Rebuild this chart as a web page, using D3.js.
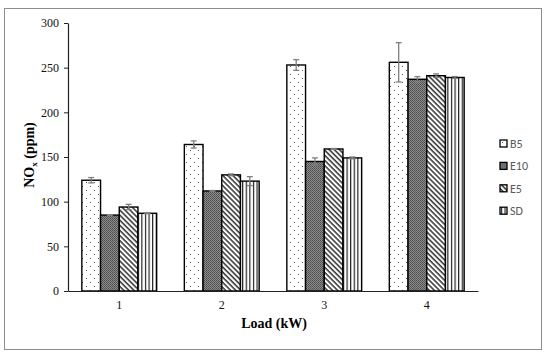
<!DOCTYPE html>
<html>
<head>
<meta charset="utf-8">
<script src="https://cdn.jsdelivr.net/npm/d3@7"></script>
<style>
  body { margin: 0; background: #fff; }
  svg { display: block; }
</style>
</head>
<body>
<script>
// categories and series
let loads = ["1", "2", "3", "4"];
let seriesNames = ["B5", "E10", "E5", "SD"];

// NOx values (ppm) per series, one per load
let b5 = [124, 164, 253, 256];
let e10 = [85, 112, 145, 237];
let e5 = [94, 130, 159, 241];
let sd = [87, 123, 149, 239];

// error bar half-lengths
let b5Err = [3, 4, 6, 22];
let e10Err = [0.5, 0.5, 4, 3];
let e5Err = [3, 1, 0.5, 2];
let sdErr = [0.5, 5, 1, 1];

let yTicks = [0, 50, 100, 150, 200, 250, 300];

let width = 550, height = 354;
let plot = { left: 68, right: 478, top: 23, bottom: 291 };
let serif = "'Liberation Serif', 'Times New Roman', serif";

let svg = d3.select("body").append("svg")
  .attr("width", width)
  .attr("height", height);

// patterns
let defs = svg.append("defs");

let dots = defs.append("pattern")
  .attr("id", "pat-B5")
  .attr("patternUnits", "userSpaceOnUse")
  .attr("width", 8).attr("height", 8);
dots.append("rect").attr("width", 8).attr("height", 8).attr("fill", "#fff");
dots.append("rect").attr("x", 2).attr("y", 2).attr("width", 1).attr("height", 1).attr("fill", "#555");
dots.append("rect").attr("x", 6).attr("y", 6).attr("width", 1).attr("height", 1).attr("fill", "#555");

let hatch = defs.append("pattern")
  .attr("id", "pat-E10")
  .attr("patternUnits", "userSpaceOnUse")
  .attr("width", 2).attr("height", 2);
hatch.append("rect").attr("width", 2).attr("height", 2).attr("fill", "#8c8c8c");
hatch.append("rect").attr("width", 1).attr("height", 1).attr("fill", "#4a4a4a");
hatch.append("rect").attr("x", 1).attr("y", 1).attr("width", 1).attr("height", 1).attr("fill", "#5a5a5a");

let diag = defs.append("pattern")
  .attr("id", "pat-E5")
  .attr("patternUnits", "userSpaceOnUse")
  .attr("width", 3.6).attr("height", 3.6)
  .attr("patternTransform", "rotate(-45)");
diag.append("rect").attr("width", 3.6).attr("height", 3.6).attr("fill", "#fff");
diag.append("line").attr("x1", 1).attr("x2", 1).attr("y1", 0).attr("y2", 3.6)
  .attr("stroke", "#111").attr("stroke-width", 1.3);

let vert = defs.append("pattern")
  .attr("id", "pat-SD")
  .attr("patternUnits", "userSpaceOnUse")
  .attr("width", 3.6).attr("height", 4);
vert.append("rect").attr("width", 3.6).attr("height", 4).attr("fill", "#fff");
vert.append("line").attr("x1", 1.5).attr("x2", 1.5).attr("y1", 0).attr("y2", 4)
  .attr("stroke", "#111").attr("stroke-width", 1.1);

// outer frame
svg.append("rect")
  .attr("x", 4.5).attr("y", 8.5)
  .attr("width", 537).attr("height", 341)
  .attr("fill", "none")
  .attr("stroke", "#8c8c8c")
  .attr("stroke-width", 1);

// scales
let x0 = d3.scaleBand()
  .domain(loads)
  .range([plot.left, plot.right])
  .paddingInner(0.27)
  .paddingOuter(0.135);

let x1 = d3.scaleBand()
  .domain(seriesNames)
  .range([0, x0.bandwidth()]);

let y = d3.scaleLinear()
  .domain([0, 300])
  .range([plot.bottom, plot.top]);

// y axis
let yAxis = svg.append("g")
  .attr("transform", "translate(" + plot.left + ",0)")
  .call(d3.axisLeft(y).tickValues(yTicks).tickSize(4).tickSizeOuter(0).tickPadding(5));
yAxis.select(".domain").attr("stroke", "#222").attr("stroke-width", 1.2);
yAxis.selectAll(".tick line").attr("stroke", "#222");
yAxis.selectAll("text")
  .style("font-family", serif)
  .style("font-size", "12px")
  .attr("fill", "#111");

// bars
let values = [b5, e10, e5, sd];
let errors = [b5Err, e10Err, e5Err, sdErr];
let rows = [];
seriesNames.forEach((s, si) => {
  loads.forEach((l, li) => {
    rows.push({ series: s, load: l, value: values[si][li], err: errors[si][li] });
  });
});

let cx = d => x0(d.load) + x1(d.series) + x1.bandwidth() / 2;

svg.selectAll(".bar")
  .data(rows)
  .enter()
  .append("rect")
  .attr("class", "bar")
  .attr("x", d => x0(d.load) + x1(d.series))
  .attr("y", d => y(d.value))
  .attr("width", x1.bandwidth())
  .attr("height", d => y(0) - y(d.value))
  .attr("fill", d => "url(#pat-" + d.series + ")")
  .attr("stroke", "#000")
  .attr("stroke-width", 1.4);

// error bars
let eb = svg.selectAll(".err")
  .data(rows)
  .enter()
  .append("g")
  .attr("class", "err")
  .attr("stroke", "#7f7f7f")
  .attr("stroke-width", 1.3);
eb.append("line")
  .attr("x1", cx).attr("x2", cx)
  .attr("y1", d => y(d.value + d.err))
  .attr("y2", d => y(d.value - d.err));
eb.append("line")
  .attr("x1", d => cx(d) - 3).attr("x2", d => cx(d) + 3)
  .attr("y1", d => y(d.value + d.err))
  .attr("y2", d => y(d.value + d.err));
eb.append("line")
  .attr("x1", d => cx(d) - 3).attr("x2", d => cx(d) + 3)
  .attr("y1", d => y(d.value - d.err))
  .attr("y2", d => y(d.value - d.err));

// x axis
let xAxis = svg.append("g")
  .attr("transform", "translate(0," + plot.bottom + ")")
  .call(d3.axisBottom(x0).tickSize(0).tickSizeOuter(0).tickPadding(9));
xAxis.select(".domain").attr("stroke", "#222").attr("stroke-width", 1.2);
xAxis.selectAll("text")
  .style("font-family", serif)
  .style("font-size", "12px")
  .attr("fill", "#111");

// axis titles
svg.append("text")
  .attr("x", 274)
  .attr("y", 328)
  .attr("text-anchor", "middle")
  .style("font-family", serif)
  .style("font-size", "14px")
  .style("font-weight", "bold")
  .text("Load (kW)");

let yTitle = svg.append("text")
  .attr("transform", "translate(34,155) rotate(-90)")
  .attr("text-anchor", "middle")
  .style("font-family", serif)
  .style("font-size", "14px")
  .style("font-weight", "bold");
yTitle.append("tspan").text("NO");
yTitle.append("tspan").attr("dy", 3).style("font-size", "9px").text("x");
yTitle.append("tspan").attr("dy", -3).text(" (ppm)");

// legend
let legend = svg.selectAll(".legend")
  .data(seriesNames)
  .enter()
  .append("g")
  .attr("class", "legend")
  .attr("transform", (d, i) => "translate(500," + (140 + i * 22.4) + ")");
legend.append("rect")
  .attr("width", 7).attr("height", 7)
  .attr("fill", d => "url(#pat-" + d + ")")
  .attr("stroke", "#000")
  .attr("stroke-width", 1.3);
legend.append("text")
  .attr("x", 10)
  .attr("y", 8)
  .style("font-family", "Carlito, 'Open Sans', 'Liberation Sans', sans-serif")
  .style("font-size", "12px")
  .attr("fill", "#595959")
  .text(d => d);
</script>
</body>
</html>
